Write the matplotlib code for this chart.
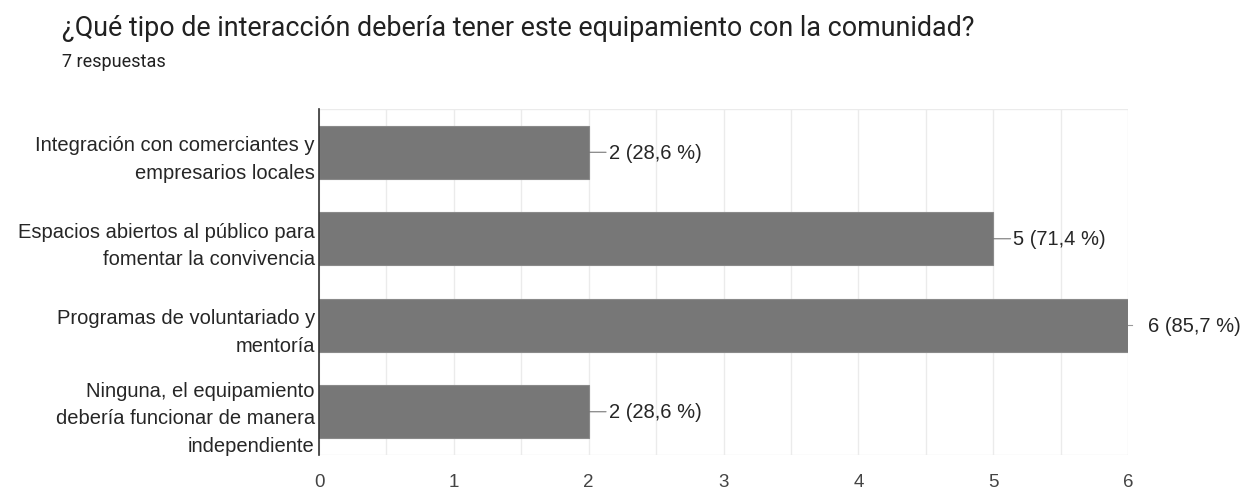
import numpy as np
import matplotlib.pyplot as plt
import matplotlib.ticker as mticker

plt.rcParams['font.family'] = ['Liberation Sans', 'DejaVu Sans']

categories = ['Integración con comerciantes y\nempresarios locales',
              'Espacios abiertos al público para\nfomentar la convivencia',
              'Programas de voluntariado y\nmentoría',
              'Ninguna, el equipamiento\ndebería funcionar de manera\nindependiente']
counts = [2, 5, 6, 2]
total_resp = 7
xticks = [0, 1, 2, 3, 4, 5, 6]

fig = plt.figure(figsize=[12.52, 4.89], dpi=100)
ax = fig.add_axes([0.2548, 0.0675, 0.901 - 0.2548, 0.775 - 0.0675])

y = np.arange(len(categories))
ax.barh(y, counts, height=0.61, color='#777777', edgecolor='#8a8a8a', linewidth=0.8, zorder=3)

ax.set_xlim(0, 6)
ax.set_ylim(len(categories) - 0.5, -0.5)
ax.set_yticks(y)
ax.set_yticklabels(categories, fontsize=14.5, color='#262626', linespacing=1.55)
ax.set_xticks(xticks)
ax.set_xticklabels([str(t) for t in xticks], fontsize=13.5, color='#444444')
ax.xaxis.set_minor_locator(mticker.MultipleLocator(0.5))
ax.tick_params(axis='both', which='both', length=0)
ax.tick_params(axis='x', pad=13)
ax.tick_params(axis='y', pad=3)

ax.grid(axis='x', which='both', color='#ebebeb', linewidth=1, zorder=0)
for s in ['top', 'right', 'bottom']:
    ax.spines[s].set_visible(False)
ax.axhline(-0.5, color='#ebebeb', linewidth=1, zorder=1)
ax.axhline(len(categories) - 0.5, color='#ebebeb', linewidth=1, zorder=1)
ax.spines['left'].set_color('#333333')
ax.spines['left'].set_linewidth(1.2)
ax.spines['left'].set_zorder(4)

for yi, c in zip(y, counts):
    pct = '{:.1f}'.format(100.0 * c / total_resp).replace('.', ',')
    lab = '{} ({} %)'.format(c, pct)
    if c >= 6:
        ax.plot([c, c + 0.03], [yi, yi], color='#999999', linewidth=0.8, clip_on=False, zorder=4)
        ax.annotate(lab, xy=(c, yi), xytext=(14.5, 0), textcoords='offset points',
                    ha='left', va='center', fontsize=14.5, color='#262626', annotation_clip=False)
    else:
        ax.annotate(lab, xy=(c, yi), xytext=(14.5, 0), textcoords='offset points',
                    ha='left', va='center', fontsize=14.5, color='#262626',
                    arrowprops=dict(arrowstyle='-', color='#777777', linewidth=0.8,
                                    shrinkA=0, shrinkB=0))

fig.text(62 / 1252, 1 - 28 / 489, '¿Qué tipo de interacción debería tener este equipamiento con la comunidad?',
         fontsize=19.4, color='#212121', ha='left', va='center', family=['Roboto', 'DejaVu Sans'])
fig.text(62 / 1252, 1 - 62 / 489, '7 respuestas', fontsize=13, color='#212121', ha='left', va='center',
         family=['Roboto', 'DejaVu Sans'])

fig.savefig('out.png', dpi=100)
